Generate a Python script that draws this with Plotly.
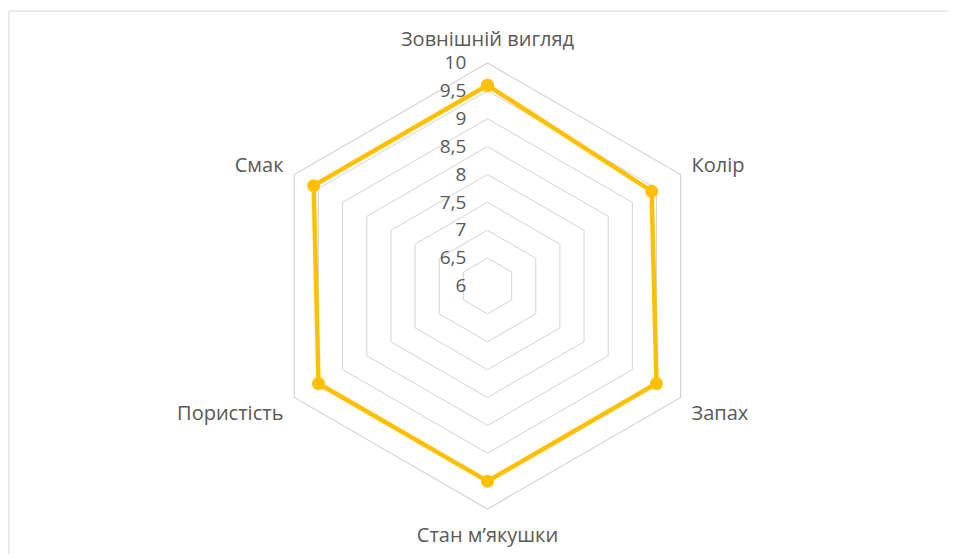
import plotly.graph_objects as go

categories = ["Зовнішній вигляд", "Колір", "Запах", "Стан м’якушки", "Пористість", "Смак"]
scores = [9.6, 9.4, 9.5, 9.5, 9.5, 9.6]
tick_vals = [6, 6.5, 7, 7.5, 8, 8.5, 9, 9.5, 10]

W, H = 956, 554
# page has an 8px body margin, so shift centre accordingly
cx, cy, R = 479.5, 278, 223

fig = go.Figure()
fig.add_trace(go.Scatterpolar(
    r=scores + scores[:1],
    theta=categories + categories[:1],
    mode="lines+markers",
    line=dict(color="#FFC000", width=4.5),
    marker=dict(color="#FFC000", size=13),
    showlegend=False,
))

fig.update_layout(
    width=W, height=H,
    autosize=False,
    margin=dict(l=0, r=0, t=0, b=0),
    paper_bgcolor="white",
    plot_bgcolor="white",
    separators=", ",
    font=dict(family="Open Sans", size=19, color="#595959"),
    polar=dict(
        domain=dict(x=[(cx - R) / W, (cx + R) / W],
                    y=[(H - cy - R) / H, (H - cy + R) / H]),
        gridshape="linear",
        bgcolor="white",
        angularaxis=dict(
            direction="clockwise", rotation=90,
            showgrid=False, showline=True,
            linecolor="#d4d4d4", linewidth=1.2,
            ticks="outside", ticklen=8, tickcolor="rgba(0,0,0,0)",
            tickfont=dict(size=20, color="#595959"),
        ),
        radialaxis=dict(
            range=[6, 10], tickvals=tick_vals,
            angle=90, tickangle=90, side="counterclockwise",
            showline=False,
            ticks="outside", ticklen=14, tickcolor="rgba(0,0,0,0)",
            gridcolor="#d4d4d4", gridwidth=1.2,
            tickfont=dict(size=19, color="#595959"),
        ),
    ),
    shapes=[dict(type="rect", xref="paper", yref="paper",
                 x0=0.001, x1=1.01, y0=-0.01, y1=1 - 3 / H,
                 line=dict(color="#d9d9d9", width=1))],
)

fig.write_html("out.html")
